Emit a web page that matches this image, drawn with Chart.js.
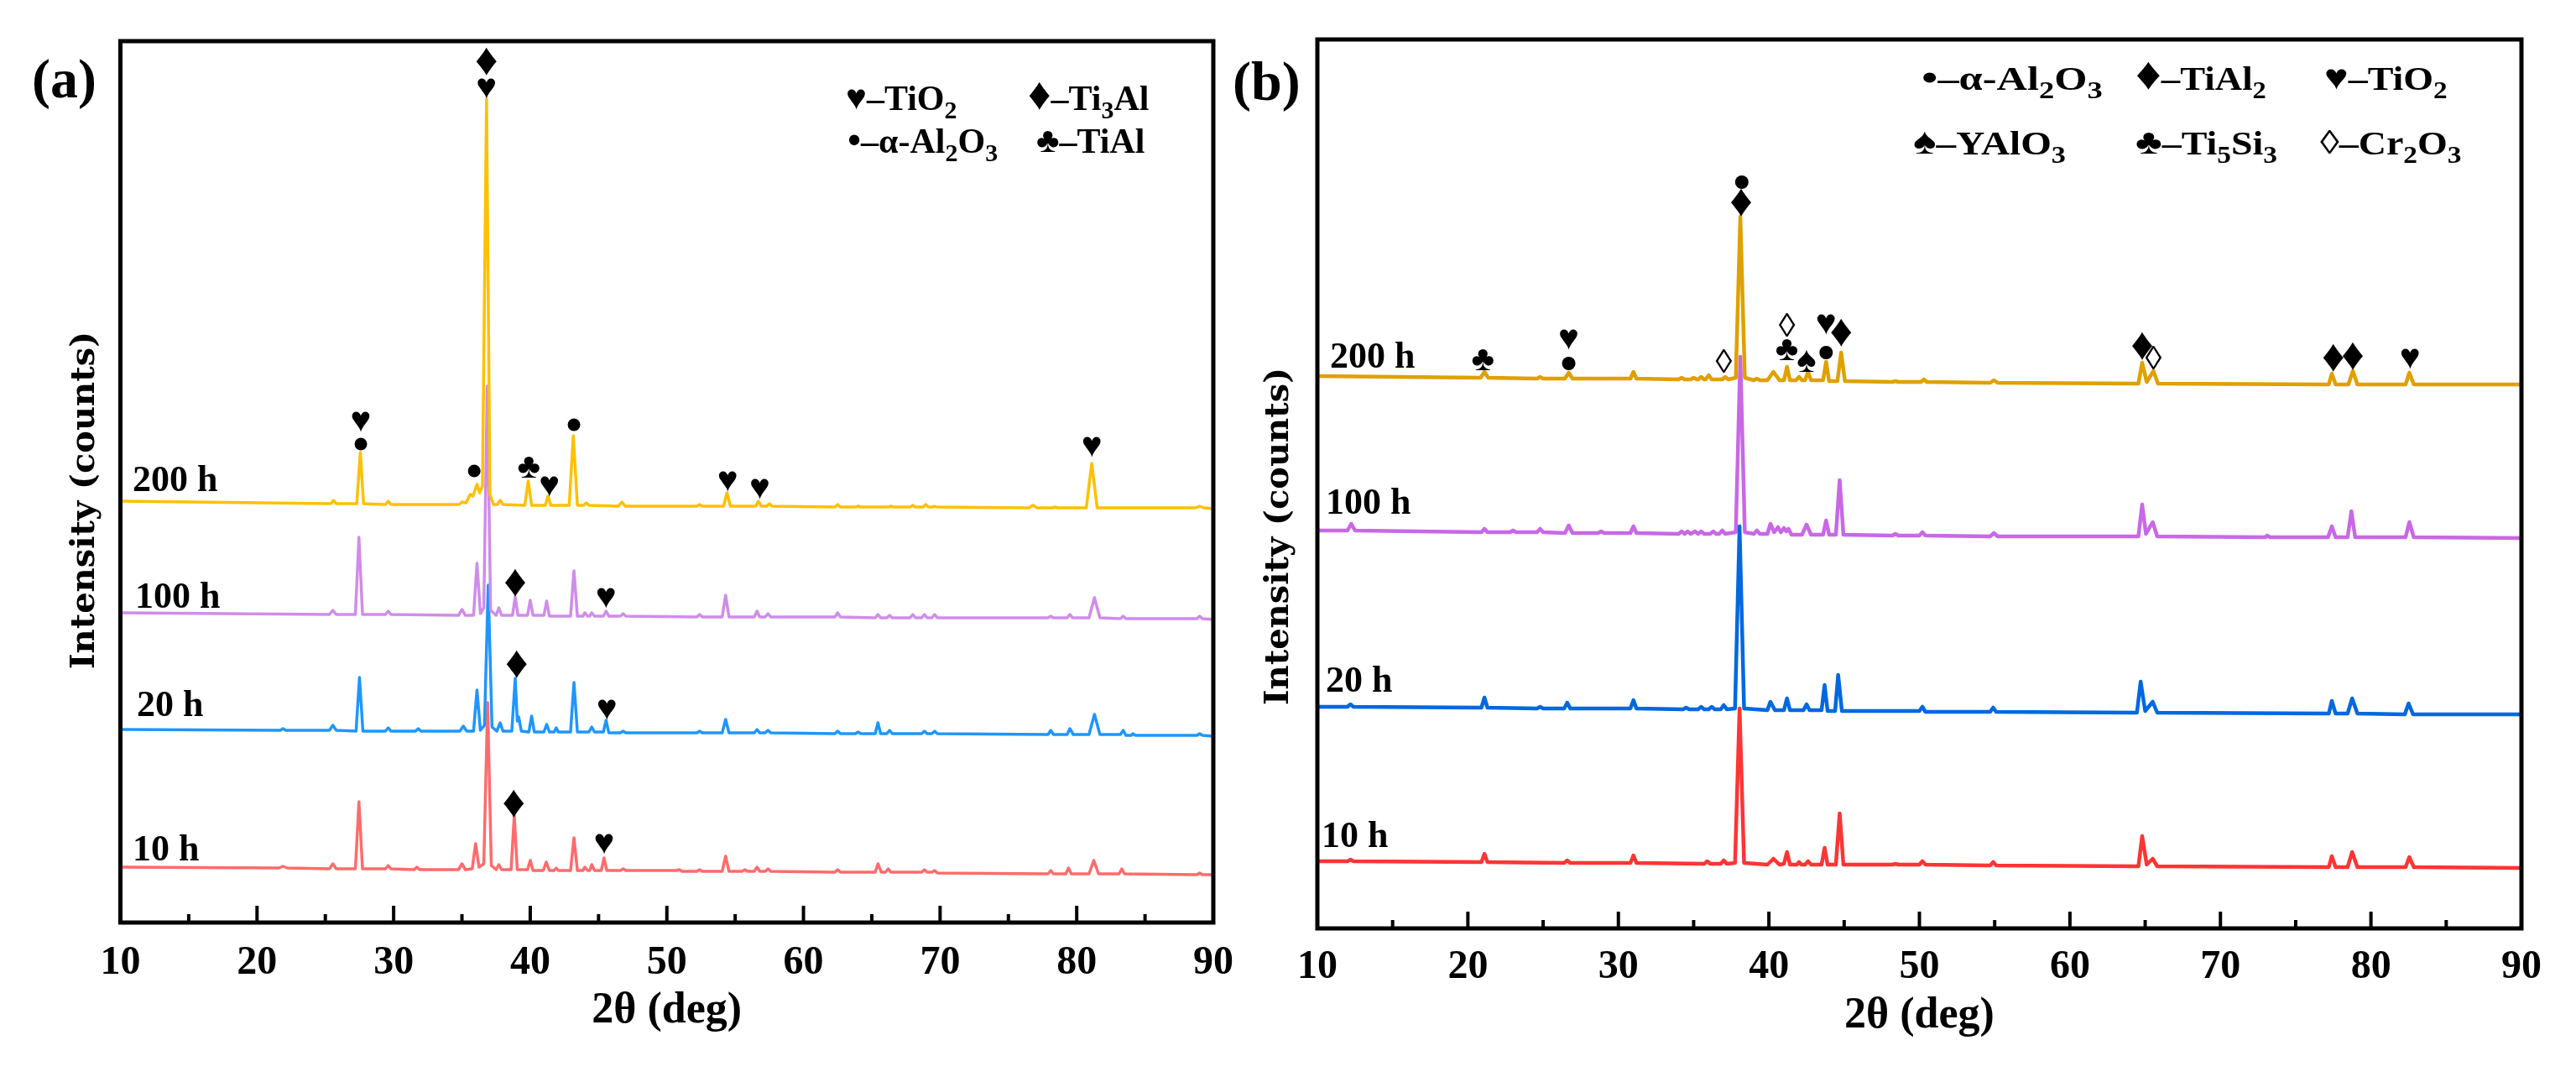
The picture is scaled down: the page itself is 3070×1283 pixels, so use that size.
<!DOCTYPE html>
<html>
<head>
<meta charset="utf-8">
<title>XRD patterns (a) and (b)</title>
<script src="https://cdn.jsdelivr.net/npm/chart.js@4.4.1/dist/chart.umd.min.js"></script>
<style>
html,body{margin:0;padding:0;background:#ffffff;}
body{width:3070px;height:1283px;position:relative;overflow:hidden;}
canvas{position:absolute;top:0;}
#ca{left:0;}
#cb{left:1440px;}
</style>
</head>
<body>
<canvas id="ca" width="1500" height="1283"></canvas>
<canvas id="cb" width="1630" height="1283"></canvas>
<script>
// ---------------- shared axis values ----------------
const majorTicks = [10, 20, 30, 40, 50, 60, 70, 80, 90];
const minorTicks = [15, 25, 35, 45, 55, 65, 75, 85];
const seriesNames = ['200 h', '100 h', '20 h', '10 h'];
const xTitle = '2θ (deg)';
const yTitle = 'Intensity (counts)';

// ---------------- panel (a): [2θ, intensity] ----------------
const a200 = [[10,502],[25.4,499],[25.6,503],[25.8,499],[27.3,499],[27.56,560],[27.8,499],[29.4,498],[29.6,502],[29.8,498],
  [34.8,498],[35.0,501],[35.3,500],[35.6,510],[35.8,508],[36.1,522],[36.3,512],[36.5,520],[36.8,981],[37.05,510],[37.3,498],
  [37.6,498],[37.8,503],[38.0,498],[39.6,497],[39.85,526],[40.1,497],[41.1,497],[41.3,508],[41.5,497],[42.85,497],[43.15,580],[43.45,497],
  [43.9,497],[44.1,500],[44.3,497],[46.45,496],[46.7,501],[46.95,496],[52.2,496],[52.4,498],[52.6,496],[54.15,496],[54.4,512],[54.65,496],
  [56.5,496],[56.7,502],[56.9,496],[57.3,496],[57.5,499],[57.7,496],[62.3,495],[62.5,498],[62.7,495],[63.8,495],[64.0,496],[64.2,495],
  [66.2,495],[66.4,496],[66.6,495],[67.8,495],[68.0,497],[68.2,495],[68.75,495],[68.95,498],[69.15,495],[69.45,495],[69.6,496],[69.75,495],
  [76.5,494],[76.8,497],[77.1,494],[78.2,494],[78.4,495],[78.6,494],[80.7,494],[81.1,547],[81.5,494],[88.7,494],[89.0,496],[89.3,494],[90,493]];
const a100 = [[10,369],[25.3,367],[25.55,372],[25.8,367],[27.2,367],[27.46,459],[27.72,367],[29.4,367],[29.6,371],[29.8,367],
  [34.75,366],[35.0,373],[35.25,366],[35.85,366],[36.1,428],[36.35,368],[36.6,375],[36.85,639],[37.1,372],[37.5,366],[37.7,375],[37.9,366],
  [38.7,366],[38.9,388],[39.1,366],[39.8,366],[40.0,384],[40.2,366],[41.0,366],[41.2,383],[41.4,365],[42.95,365],[43.2,419],[43.45,365],
  [43.85,365],[44.0,369],[44.2,365],[44.35,365],[44.5,369],[44.7,365],[45.35,365],[45.55,371],[45.75,365],[46.6,365],[46.8,368],[47.0,365],
  [52.2,364],[52.4,367],[52.6,364],[54.05,364],[54.3,390],[54.55,364],[56.4,364],[56.6,371],[56.8,364],[57.2,364],[57.4,368],[57.6,364],
  [62.3,364],[62.5,369],[62.7,364],[65.25,363],[65.45,367],[65.65,363],[66.1,363],[66.3,366],[66.5,363],[67.8,363],[68.0,367],[68.2,363],
  [68.65,363],[68.85,367],[69.05,363],[69.4,363],[69.6,367],[69.8,363],[77.9,363],[78.1,365],[78.3,363],[79.3,363],[79.5,367],[79.7,363],
  [80.9,363],[81.3,387],[81.7,363],[83.2,362],[83.4,365],[83.6,362],[88.8,362],[89.0,365],[89.2,362],[90,361]];
const a20 = [[10,230],[21.7,229],[21.9,231],[22.1,229],[25.3,229],[25.55,235],[25.8,229],[27.25,228],[27.5,292],[27.75,228],
  [29.4,228],[29.6,232],[29.8,228],[31.6,228],[31.8,231],[32.0,228],[34.85,228],[35.1,234],[35.35,228],[35.85,228],[36.1,277],[36.35,229],
  [36.65,235],[36.92,402],[37.2,233],[37.55,228],[37.8,238],[38.0,228],[38.65,228],[38.9,291],[39.05,240],[39.15,245],[39.35,228],
  [39.9,227],[40.1,246],[40.3,227],[41.0,227],[41.2,236],[41.4,227],[41.75,227],[41.9,232],[42.05,227],[42.95,227],[43.2,286],[43.45,227],
  [44.3,227],[44.5,233],[44.7,227],[45.35,227],[45.55,241],[45.75,226],[46.6,226],[46.8,228],[47.0,226],[52.2,226],[52.4,228],[52.6,226],
  [54.05,226],[54.3,242],[54.55,226],[56.4,226],[56.6,230],[56.8,226],[57.2,226],[57.4,229],[57.6,226],[62.3,225],[62.5,228],[62.7,225],
  [63.8,225],[64.0,227],[64.2,225],[65.25,225],[65.45,238],[65.65,225],[66.1,225],[66.3,229],[66.5,225],[68.65,225],[68.85,228],[69.05,225],
  [69.4,225],[69.6,228],[69.8,225],[77.9,224],[78.1,229],[78.3,224],[79.3,224],[79.5,231],[79.75,224],[80.9,224],[81.3,248],[81.7,224],
  [83.2,224],[83.4,229],[83.6,223],[84.0,223],[84.1,225],[84.3,223],[88.8,223],[89.0,225],[89.2,223],[90,222]];
const a10 = [[10,66],[21.6,65],[21.9,67],[22.2,65],[25.3,64],[25.55,70],[25.8,64],[27.2,64],[27.46,144],[27.72,64],
  [29.4,64],[29.6,68],[29.8,64],[31.5,63],[31.7,66],[31.9,63],[34.75,63],[35.0,70],[35.25,63],[35.75,64],[36.0,94],[36.25,66],
  [36.6,70],[36.88,262],[37.15,68],[37.5,63],[37.7,69],[37.9,63],[38.6,63],[38.83,128],[39.05,63],[39.8,63],[40.0,74],[40.2,62],
  [40.95,62],[41.17,72],[41.4,62],[41.75,62],[41.9,65],[42.05,62],[42.95,62],[43.2,101],[43.45,62],[43.85,62],[44.0,66],[44.2,62],
  [44.35,62],[44.5,69],[44.7,62],[45.2,62],[45.4,77],[45.6,62],[46.6,62],[46.8,64],[47.0,62],[50.7,62],[50.9,63],[51.1,61],
  [52.2,61],[52.4,63],[52.6,61],[54.05,61],[54.3,79],[54.55,61],[55.5,61],[55.7,63],[55.9,61],[56.4,61],[56.6,66],[56.8,61],
  [57.2,61],[57.4,64],[57.6,61],[62.3,60],[62.5,63],[62.7,60],[65.25,60],[65.45,70],[65.7,60],[66.0,60],[66.2,64],[66.4,60],
  [68.65,60],[68.85,63],[69.05,60],[69.4,60],[69.6,62],[69.8,59],[77.9,58],[78.1,62],[78.3,58],[79.2,58],[79.4,65],[79.6,58],
  [80.9,58],[81.25,74],[81.6,58],[83.1,58],[83.3,64],[83.5,58],[88.8,57],[89.0,59],[89.2,57],[90,57]];
// phase markers of panel (a): [symbol, 2θ, intensity]
const markersA = [['♦',36.8,1024],['♥',36.8,993],['♥',27.6,596],['●',27.6,570],['●',35.9,538],['♣',39.9,541],['♥',41.4,519],
  ['●',43.2,593],['♥',54.45,525],['♥',56.8,516],['♥',81.1,566],['♦',38.9,403],['♥',45.55,386],['♦',39.0,306],['♥',45.6,253],
  ['♦',38.8,140],['♥',45.4,93]];
const legendA = [['♥–TiO_2','♦–Ti_3Al'],['•–α-Al_2O_3','♣–TiAl']];

// ---------------- panel (b) ----------------
const b200 = [[10,658],[20.85,656],[21.1,663],[21.35,656],[24.6,655],[24.8,657],[25.0,655],[26.45,655],[26.7,662],[26.95,655],
  [30.8,655],[31.0,663],[31.2,655],[34.0,654],[34.2,656],[34.4,654],[34.8,654],[35.0,656],[35.2,654],[35.3,654],[35.5,657],[35.7,654],
  [35.8,654],[36.0,659],[36.2,654],[36.9,654],[37.1,657],[37.3,654],[37.8,656],[38.1,848],[38.4,656],[39.0,653],[39.2,655],[39.4,653],
  [39.9,653],[40.3,663],[40.7,653],[41.0,653],[41.2,669],[41.4,653],[41.8,653],[42.0,657],[42.2,653],[42.4,653],[42.6,663],[42.8,653],
  [43.6,653],[43.8,675],[44.0,652],[44.55,652],[44.8,686],[45.05,652],[48.2,651],[48.4,652],[48.6,651],[50.1,651],[50.3,654],[50.5,651],
  [54.7,650],[54.95,653],[55.2,650],[64.55,649],[64.8,674],[65.1,651],[65.55,664],[65.85,649],[77.2,648],[77.4,661],[77.65,648],
  [78.5,648],[78.8,664],[79.1,648],[82.3,648],[82.55,662],[82.85,648],[90,648]];
const b100 = [[10,474],[12.0,474],[12.25,482],[12.5,474],[20.9,472],[21.1,476],[21.3,472],[22.8,472],[23.0,474],[23.2,472],
  [24.6,472],[24.8,476],[25.0,472],[26.45,471],[26.7,480],[26.95,471],[28.65,471],[28.85,473],[29.05,471],[30.8,471],[31.0,479],[31.2,471],
  [34.0,470],[34.2,473],[34.4,470],[34.6,473],[34.8,470],[35.1,473],[35.3,470],[35.5,473],[35.7,470],[36.1,470],[36.3,473],[36.5,470],
  [36.7,470],[36.9,474],[37.1,470],[37.8,472],[38.1,681],[38.4,472],[39.0,470],[39.2,474],[39.4,470],[39.9,470],[40.1,482],[40.35,472],
  [40.6,478],[40.8,472],[41.0,477],[41.15,473],[41.3,476],[41.5,469],[42.2,469],[42.5,481],[42.8,469],[43.6,469],[43.8,486],[44.0,469],
  [44.45,469],[44.7,534],[44.95,469],[48.2,468],[48.4,470],[48.6,468],[50.0,468],[50.2,472],[50.4,468],[54.7,467],[54.95,471],[55.2,467],
  [64.55,467],[64.8,505],[65.05,470],[65.5,484],[65.8,467],[73.0,466],[73.1,468],[73.3,466],[77.15,466],[77.4,479],[77.65,466],
  [78.45,466],[78.7,497],[78.95,466],[82.3,466],[82.55,484],[82.85,466],[90,465]];
const b20 = [[10,264],[12.0,264],[12.2,267],[12.4,264],[20.9,263],[21.1,275],[21.3,263],[24.6,262],[24.8,264],[25.0,262],
  [26.4,262],[26.6,269],[26.8,262],[30.8,262],[31.0,272],[31.2,262],[34.3,261],[34.5,263],[34.7,261],[35.3,261],[35.5,264],[35.7,261],
  [36.0,261],[36.2,264],[36.4,261],[36.8,261],[37.0,266],[37.2,261],[37.75,262],[38.05,479],[38.35,262],[39.9,260],[40.1,270],[40.4,260],
  [41.0,260],[41.2,274],[41.4,260],[42.3,260],[42.5,267],[42.7,260],[43.5,260],[43.7,290],[43.9,259],[44.4,259],[44.6,302],[44.85,259],
  [50.0,259],[50.2,264],[50.4,258],[54.7,258],[54.9,263],[55.1,258],[64.45,257],[64.7,294],[65.0,259],[65.5,270],[65.8,257],
  [77.2,256],[77.4,271],[77.65,256],[78.45,256],[78.75,274],[79.1,256],[82.25,255],[82.5,268],[82.8,255],[90,255]];
const b10 = [[10,80],[12.0,80],[12.2,82],[12.4,80],[20.9,79],[21.1,89],[21.3,79],[26.4,78],[26.6,81],[26.8,78],[30.8,78],[31.0,87],[31.2,78],
  [35.7,77],[35.9,80],[36.1,77],[36.8,77],[37.0,81],[37.2,77],[37.75,78],[38.05,262],[38.35,78],[39.9,76],[40.3,83],[40.7,76],
  [41.0,77],[41.2,91],[41.4,76],[41.85,76],[42.0,79],[42.15,76],[42.4,76],[42.6,80],[42.8,76],[43.5,76],[43.7,96],[43.9,76],
  [44.45,76],[44.7,137],[44.95,76],[48.2,76],[48.4,77],[48.6,76],[50.0,76],[50.2,80],[50.4,76],[54.7,75],[54.9,79],[55.1,75],
  [64.55,74],[64.8,110],[65.1,76],[65.5,83],[65.8,74],[77.2,73],[77.4,86],[77.65,73],[78.45,73],[78.75,91],[79.1,73],
  [82.3,73],[82.55,85],[82.85,73],[90,72]];
const markersB = [['♣',21.0,676],['♥',26.7,701],['●',26.7,673],['◊',37.0,673],['●',38.2,889],['♦',38.15,863],['◊',41.2,716],
  ['♣',41.2,688],['♠',42.5,674],['♥',43.8,719],['●',43.8,686],['♦',44.8,708],['♦',64.8,692],['◊',65.55,677],['♦',77.5,678],
  ['♦',78.8,680],['♥',82.6,678]];
const legendB = [['•–α-Al_2O_3','♦–TiAl_2','♥–TiO_2'],['♠–YAlO_3','♣–Ti_5Si_3','◊–Cr_2O_3']];

// ---------------- drawing helpers ----------------
const SERIF = '"Liberation Serif","Times New Roman",serif';
const YFONT = '"DejaVu Serif","Liberation Serif",serif';

// draws "S–Text_2..." : first char is the phase symbol, "_d" is a subscript digit
function richText(ctx, str, x, y, size, symSize) {
  let cx = x;
  const sym = str[0];
  const ssz = sym === '•' ? Math.round(size * 1.1) : (symSize[sym] || size);
  ctx.font = (sym === '◊' ? 'normal ' : 'bold ') + ssz + 'px ' + SERIF;
  const dy = sym === '•' ? 0 : -size * 0.02;
  ctx.fillText(sym, cx, y + dy);
  cx += ctx.measureText(sym).width;
  const parts = str.slice(1).split(/(_\d)/);
  for (const p of parts) {
    if (!p) continue;
    if (p[0] === '_') {
      ctx.font = 'bold ' + Math.round(size * 0.72) + 'px ' + SERIF;
      ctx.fillText(p.slice(1), cx, y + size * 0.24);
      cx += ctx.measureText(p.slice(1)).width;
    } else {
      ctx.font = 'bold ' + size + 'px ' + SERIF;
      ctx.fillText(p, cx, y);
      cx += ctx.measureText(p).width;
    }
  }
}

const deco = {
  id: 'deco',
  afterDatasetsDraw(chart, args, o) {
    const ctx = chart.ctx, ca = chart.chartArea, xs = chart.scales.x, ys = chart.scales.y;
    const ox = o.ox;
    ctx.save();
    ctx.strokeStyle = '#000';
    ctx.fillStyle = '#000';
    // inward ticks on the bottom axis
    ctx.lineWidth = o.tickWidth;
    ctx.lineCap = 'butt';
    for (const t of majorTicks) {
      const px = xs.getPixelForValue(t);
      ctx.beginPath(); ctx.moveTo(px, ca.bottom); ctx.lineTo(px, ca.bottom - o.majorLen); ctx.stroke();
    }
    for (const t of minorTicks) {
      const px = xs.getPixelForValue(t);
      ctx.beginPath(); ctx.moveTo(px, ca.bottom); ctx.lineTo(px, ca.bottom - o.minorLen); ctx.stroke();
    }
    // frame
    ctx.lineWidth = o.frameWidth;
    ctx.strokeRect(ca.left, ca.top, ca.right - ca.left, ca.bottom - ca.top);
    // phase markers
    ctx.textAlign = 'center';
    ctx.textBaseline = 'middle';
    for (const [s, xv, yv] of o.markers) {
      const px = xs.getPixelForValue(xv), py = ys.getPixelForValue(yv);
      if (s === '●') {
        ctx.beginPath(); ctx.arc(px, py, o.dotR, 0, Math.PI * 2); ctx.fill();
      } else {
        const sz = o.symSize[s] || 34;
        ctx.font = (s === '◊' ? 'normal ' : 'bold ') + sz + 'px ' + SERIF;
        ctx.fillText(s, px, py);
      }
    }
    // series labels
    ctx.textAlign = 'left';
    ctx.textBaseline = 'alphabetic';
    ctx.font = 'bold ' + o.labelSize + 'px ' + SERIF;
    o.labelPos.forEach((p, i) => ctx.fillText(seriesNames[i], p[0] - ox, p[1]));
    // legend
    o.legend.forEach((row, r) => row.forEach((item, c) => {
      ctx.save();
      ctx.translate(o.legendX[r][c] - ox, o.legendY[r]);
      ctx.scale(o.legendStretch[r][c], 1);
      richText(ctx, item, 0, 0, o.legendSize, o.symSize);
      ctx.restore();
    }));
    // panel letter
    ctx.font = 'bold ' + o.letterSize + 'px ' + SERIF;
    ctx.fillText(o.letter, o.letterPos[0] - ox, o.letterPos[1]);
    // y axis title
    ctx.save();
    ctx.translate(o.yTitlePos[0] - ox, o.yTitlePos[1]);
    ctx.rotate(-Math.PI / 2);
    ctx.textAlign = 'center';
    ctx.textBaseline = 'middle';
    ctx.font = 'bold ' + o.yTitleSize + 'px ' + YFONT;
    ctx.fillText(yTitle, 0, 0);
    ctx.restore();
    ctx.restore();
  }
};

function makeDataset(pts, color, order, width) {
  return {
    data: pts.map(p => ({x: p[0], y: p[1]})),
    borderColor: color, backgroundColor: color, borderWidth: width,
    pointRadius: 0, tension: 0, fill: false, order: order,
    borderJoinStyle: 'round', borderCapStyle: 'round'
  };
}

function makeChart(id, cfg) {
  return new Chart(document.getElementById(id), {
    type: 'line',
    data: {
      datasets: cfg.series.map((s, i) => makeDataset(s, cfg.colors[i], i, cfg.lineWidth))
    },
    options: {
      responsive: false, animation: false, devicePixelRatio: 1,
      layout: {padding: cfg.padding},
      plugins: {legend: {display: false}, tooltip: {enabled: false}, deco: cfg.deco},
      scales: {
        x: {
          type: 'linear', min: 10, max: 90,
          afterFit: s => { s.height = cfg.xHeight; },
          border: {display: false},
          grid: {display: false, drawTicks: false},
          ticks: {stepSize: 10, autoSkip: false, maxRotation: 0, padding: cfg.tickPad, color: '#000',
                  font: {family: SERIF, size: 48, weight: 'bold'}},
          title: {display: true, text: xTitle, color: '#000', padding: {top: 0, bottom: cfg.titlePad},
                  font: {family: SERIF, size: 52, weight: 'bold'}}
        },
        y: {display: false, min: 0, max: cfg.yMax}
      }
    },
    plugins: [deco]
  });
}

const symSizes = {'♥': 42, '♦': 54, '♣': 42, '♠': 44, '◊': 40};

makeChart('ca', {
  series: [a200, a100, a20, a10],
  colors: ['#FFC000', '#D08CEA', '#1E96FF', '#FF6B6B'],
  lineWidth: 3.5,
  padding: {left: 143.5, right: 54, top: 49, bottom: 0},
  xHeight: 184, tickPad: 20, titlePad: 47, yMax: 1050,
  deco: {
    ox: 0, tickWidth: 4, majorLen: 20, minorLen: 10, frameWidth: 5,
    markers: markersA, dotR: 7.5, symSize: symSizes,
    labelSize: 44, labelPos: [[158, 585], [161, 724], [163, 853], [158, 1025]],
    legend: legendA, legendX: [[1008, 1225], [1010, 1235]], legendY: [131, 182], legendSize: 42,
    legendStretch: [[1, 1], [1, 1]],
    letter: '(a)', letterPos: [38, 116], letterSize: 66,
    yTitlePos: [102, 596], yTitleSize: 40
  }
});

makeChart('cb', {
  series: [b200, b100, b20, b10],
  colors: ['#E0A000', '#C868E6', '#0068E0', '#FF3434'],
  lineWidth: 4.5,
  padding: {left: 130, right: 65, top: 47, bottom: 0},
  xHeight: 177, tickPad: 18, titlePad: 41, yMax: 1059,
  deco: {
    ox: 1440, tickWidth: 4, majorLen: 20, minorLen: 10, frameWidth: 5,
    markers: markersB, dotR: 8, symSize: symSizes,
    labelSize: 44, labelPos: [[1585, 438], [1580, 612], [1580, 824], [1575, 1009]],
    legend: legendB, legendX: [[2290, 2545, 2770], [2280, 2545, 2765]], legendY: [107, 184], legendSize: 40,
    legendStretch: [[1.26, 1.12, 1.15], [1.18, 1.15, 1.15]],
    letter: '(b)', letterPos: [1469, 119], letterSize: 66,
    yTitlePos: [1525, 639], yTitleSize: 40
  }
});
</script>
</body>
</html>
